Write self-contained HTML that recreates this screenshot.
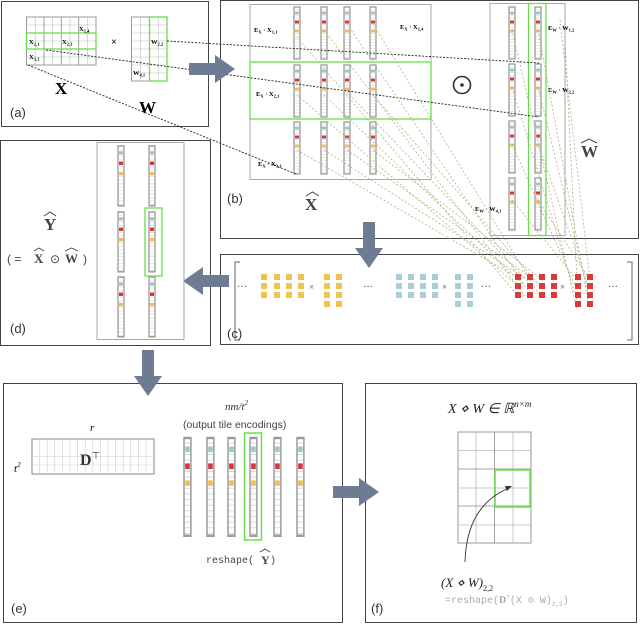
<!DOCTYPE html>
<html><head><meta charset="utf-8"><style>
html,body{margin:0;padding:0;background:#fff}
svg{display:block}
text{font-family:"Liberation Serif",serif}
.s{font-family:"Liberation Sans",sans-serif}
</style></head><body>
<svg width="640" height="625" viewBox="0 0 640 625" xmlns="http://www.w3.org/2000/svg">
<defs>
<pattern id="st" width="6" height="3" patternUnits="userSpaceOnUse"><rect width="6" height="3" fill="#fff"/><line x1="0" y1="2.75" x2="6" y2="2.75" stroke="#d8d8d8" stroke-width="0.5"/></pattern>
<g id="bar">
<rect x="0" y="0" width="6" height="52" fill="url(#st)" stroke="#9a9a9a" stroke-width="1.3"/>
<rect x="1" y="4.5" width="4" height="3" fill="#9fc7cf"/>
<rect x="1" y="13.5" width="4" height="3" fill="#d9363a"/>
<rect x="1" y="22.5" width="4" height="3" fill="#f1c04f"/>
</g>
<g id="arrR"><polygon points="0,-6 26,-6 26,-14 46,0 26,14 26,6 0,6" fill="#6d7b93"/></g>
<g id="sq"><rect width="6" height="6"/></g>
</defs>

<rect x="1.5" y="1.5" width="207" height="125" fill="none" stroke="#444" stroke-width="1"/>
<rect x="220.5" y="0.5" width="418" height="238" fill="none" stroke="#444" stroke-width="1"/>
<rect x="0.5" y="140.5" width="210" height="205" fill="none" stroke="#444" stroke-width="1"/>
<rect x="220.5" y="254.5" width="418" height="90" fill="none" stroke="#444" stroke-width="1"/>
<rect x="3.5" y="383.5" width="339" height="239" fill="none" stroke="#444" stroke-width="1"/>
<rect x="365.5" y="383.5" width="271" height="239" fill="none" stroke="#444" stroke-width="1"/>

<g stroke="#bbb" stroke-width="0.6" fill="none">
<rect x="26.5" y="17" width="69.5" height="48" stroke="#999" stroke-width="1"/>
<path d="M35.2 17V65M43.9 17V65M52.6 17V65M61.3 17V65M70 17V65M78.7 17V65M87.4 17V65M26.5 25H96M26.5 33H96M26.5 41H96M26.5 49H96M26.5 57H96"/>
<path d="M44 17V65M61.3 17V65M78.7 17V65M26.5 33H96M26.5 49H96" stroke="#999" stroke-width="0.9"/>
<rect x="131.5" y="17" width="35.5" height="64" stroke="#999" stroke-width="1"/>
<path d="M140.4 17V81M149.3 17V81M158.2 17V81M131.5 25H167M131.5 33H167M131.5 41H167M131.5 49H167M131.5 57H167M131.5 65H167M131.5 73H167"/>
</g>
<rect x="26.5" y="33" width="69.5" height="16" fill="none" stroke="#66e04a" stroke-width="1.3"/>
<rect x="149.5" y="17" width="17.5" height="64" fill="none" stroke="#66e04a" stroke-width="1.3"/>
<g font-size="6.5" font-weight="bold">
<text x="79" y="31">X<tspan font-size="4.5" dy="1.5">1,4</tspan></text>
<text x="29" y="44">X<tspan font-size="4.5" dy="1.5">2,1</tspan></text>
<text x="62" y="44">X<tspan font-size="4.5" dy="1.5">2,3</tspan></text>
<text x="29" y="59">X<tspan font-size="4.5" dy="1.5">3,1</tspan></text>
<text x="151" y="44">W<tspan font-size="4.5" dy="1.5">2,2</tspan></text>
<text x="133" y="75">W<tspan font-size="4.5" dy="1.5">4,1</tspan></text>
</g>
<text x="111" y="45" font-size="10" class="s">×</text>
<text x="55" y="94" font-size="17" font-weight="bold">X</text>
<text x="139" y="113" font-size="17" font-weight="bold">W</text>
<text x="10" y="117" font-size="13" class="s" fill="#333">(a)</text>

<rect x="250" y="4.5" width="181" height="175" fill="none" stroke="#aaa" stroke-width="1"/>
<rect x="490" y="3.5" width="75" height="232" fill="none" stroke="#aaa" stroke-width="1"/>
<g>
<use href="#bar" x="294" y="7"/><use href="#bar" x="321" y="7"/><use href="#bar" x="344" y="7"/><use href="#bar" x="370" y="7"/>
<use href="#bar" x="294" y="65"/><use href="#bar" x="321" y="65"/><use href="#bar" x="344" y="65"/><use href="#bar" x="370" y="65"/>
<use href="#bar" x="294" y="122"/><use href="#bar" x="321" y="122"/><use href="#bar" x="344" y="122"/><use href="#bar" x="370" y="122"/>
<use href="#bar" x="509" y="7"/><use href="#bar" x="535" y="7"/>
<use href="#bar" x="509" y="64"/><use href="#bar" x="535" y="64"/>
<use href="#bar" x="509" y="121"/><use href="#bar" x="535" y="121"/>
<use href="#bar" x="509" y="178"/><use href="#bar" x="535" y="178"/>
</g>
<rect x="250" y="62" width="181" height="57" fill="none" stroke="#66e04a" stroke-width="1.3"/>
<rect x="528.5" y="3.5" width="17.5" height="232" fill="none" stroke="#66e04a" stroke-width="1.3"/>
<g font-size="6.5" font-weight="bold">
<text x="254" y="32">E<tspan font-size="4.5" dy="1.5">X</tspan><tspan dy="-1.5"> · X</tspan><tspan font-size="4.5" dy="1.5">1,1</tspan></text>
<text x="400" y="29">E<tspan font-size="4.5" dy="1.5">X</tspan><tspan dy="-1.5"> · X</tspan><tspan font-size="4.5" dy="1.5">1,4</tspan></text>
<text x="256" y="96">E<tspan font-size="4.5" dy="1.5">X</tspan><tspan dy="-1.5"> · X</tspan><tspan font-size="4.5" dy="1.5">2,1</tspan></text>
<text x="258" y="166">E<tspan font-size="4.5" dy="1.5">X</tspan><tspan dy="-1.5"> · X</tspan><tspan font-size="4.5" dy="1.5">3,1</tspan></text>
<text x="548" y="30">E<tspan font-size="4.5" dy="1.5">W</tspan><tspan dy="-1.5"> · W</tspan><tspan font-size="4.5" dy="1.5">1,2</tspan></text>
<text x="548" y="92">E<tspan font-size="4.5" dy="1.5">W</tspan><tspan dy="-1.5"> · W</tspan><tspan font-size="4.5" dy="1.5">2,2</tspan></text>
<text x="475" y="211">E<tspan font-size="4.5" dy="1.5">W</tspan><tspan dy="-1.5"> · W</tspan><tspan font-size="4.5" dy="1.5">4,1</tspan></text>
</g>
<circle cx="462" cy="85" r="8.5" fill="none" stroke="#333" stroke-width="1.6"/><circle cx="462" cy="85" r="1.8" fill="#333"/>
<text x="227" y="203" font-size="13" class="s" fill="#333">(b)</text>
<text x="305" y="210" font-size="17" font-weight="bold" fill="#444">X</text>
<path d="M306 196 L312.5 192 L319 196" fill="none" stroke="#444" stroke-width="1"/>
<text x="581" y="157" font-size="17" font-weight="bold" fill="#444">W</text>
<path d="M581 143 L589 139 L597 143" fill="none" stroke="#444" stroke-width="1"/>

<g stroke="#222" stroke-width="0.9" stroke-dasharray="2,1.5" fill="none">
<line x1="167" y1="41" x2="539" y2="63"/>
<line x1="46" y1="50" x2="539" y2="117"/>
<line x1="28" y1="65" x2="296" y2="174"/>
</g>
<g stroke="#b5b182" stroke-width="0.8" stroke-dasharray="2,2" fill="none">
<line x1="297" y1="37" x2="518" y2="296"/>
<line x1="324" y1="30" x2="525" y2="296"/>
<line x1="347" y1="24" x2="532" y2="296"/>
<line x1="373" y1="24" x2="540" y2="296"/>
<line x1="297" y1="95" x2="518" y2="286"/>
<line x1="324" y1="95" x2="525" y2="286"/>
<line x1="347" y1="92" x2="532" y2="286"/>
<line x1="373" y1="95" x2="540" y2="286"/>
<line x1="297" y1="150" x2="518" y2="278"/>
<line x1="324" y1="150" x2="525" y2="278"/>
<line x1="347" y1="150" x2="532" y2="278"/>
<line x1="373" y1="150" x2="540" y2="278"/>
<line x1="512" y1="30" x2="577" y2="310"/>
<line x1="538" y1="30" x2="590" y2="310"/>
<line x1="512" y1="87" x2="577" y2="300"/>
<line x1="538" y1="87" x2="590" y2="300"/>
<line x1="512" y1="144" x2="577" y2="290"/>
<line x1="538" y1="144" x2="590" y2="290"/>
<line x1="512" y1="200" x2="577" y2="280"/>
<line x1="538" y1="200" x2="590" y2="280"/>
<line x1="560" y1="20" x2="590" y2="280"/>
<line x1="565" y1="40" x2="577" y2="280"/>
</g>

<use href="#arrR" transform="translate(189,69)"/>
<use href="#arrR" transform="translate(369,222) rotate(90)"/>
<use href="#arrR" transform="translate(229,281) rotate(180)"/>
<use href="#arrR" transform="translate(148,350) rotate(90)"/>
<use href="#arrR" transform="translate(333,492)"/>

<path d="M240 262H235V340H240M627 262H632V340H627" fill="none" stroke="#666" stroke-width="1"/>
<g font-size="10" class="s" fill="#444">
<text x="237" y="290">···</text><text x="363" y="290">···</text><text x="481" y="290">···</text><text x="608" y="290">···</text>
<text x="309" y="290" font-size="9">×</text><text x="442" y="290" font-size="9">×</text><text x="560" y="290" font-size="9">×</text>
</g>
<g fill="#f2c14e">
<use href="#sq" x="261" y="274"/><use href="#sq" x="274" y="274"/><use href="#sq" x="286" y="274"/><use href="#sq" x="298" y="274"/>
<use href="#sq" x="261" y="283"/><use href="#sq" x="274" y="283"/><use href="#sq" x="286" y="283"/><use href="#sq" x="298" y="283"/>
<use href="#sq" x="261" y="292"/><use href="#sq" x="274" y="292"/><use href="#sq" x="286" y="292"/><use href="#sq" x="298" y="292"/>
<use href="#sq" x="324" y="274"/><use href="#sq" x="336" y="274"/><use href="#sq" x="324" y="283"/><use href="#sq" x="336" y="283"/>
<use href="#sq" x="324" y="292"/><use href="#sq" x="336" y="292"/><use href="#sq" x="324" y="301"/><use href="#sq" x="336" y="301"/>
</g>
<g fill="#a8cdd4">
<use href="#sq" x="396" y="274"/><use href="#sq" x="408" y="274"/><use href="#sq" x="420" y="274"/><use href="#sq" x="432" y="274"/>
<use href="#sq" x="396" y="283"/><use href="#sq" x="408" y="283"/><use href="#sq" x="420" y="283"/><use href="#sq" x="432" y="283"/>
<use href="#sq" x="396" y="292"/><use href="#sq" x="408" y="292"/><use href="#sq" x="420" y="292"/><use href="#sq" x="432" y="292"/>
<use href="#sq" x="455" y="274"/><use href="#sq" x="467" y="274"/><use href="#sq" x="455" y="283"/><use href="#sq" x="467" y="283"/>
<use href="#sq" x="455" y="292"/><use href="#sq" x="467" y="292"/><use href="#sq" x="455" y="301"/><use href="#sq" x="467" y="301"/>
</g>
<g fill="#db3a3a">
<use href="#sq" x="515" y="274"/><use href="#sq" x="527" y="274"/><use href="#sq" x="539" y="274"/><use href="#sq" x="551" y="274"/>
<use href="#sq" x="515" y="283"/><use href="#sq" x="527" y="283"/><use href="#sq" x="539" y="283"/><use href="#sq" x="551" y="283"/>
<use href="#sq" x="515" y="292"/><use href="#sq" x="527" y="292"/><use href="#sq" x="539" y="292"/><use href="#sq" x="551" y="292"/>
<use href="#sq" x="575" y="274"/><use href="#sq" x="587" y="274"/><use href="#sq" x="575" y="283"/><use href="#sq" x="587" y="283"/>
<use href="#sq" x="575" y="292"/><use href="#sq" x="587" y="292"/><use href="#sq" x="575" y="301"/><use href="#sq" x="587" y="301"/>
</g>
<text x="227" y="338" font-size="13" class="s" fill="#333">(c)</text>

<rect x="97" y="142.5" width="87" height="197" fill="none" stroke="#aaa" stroke-width="1"/>
<use href="#bar" transform="translate(118,146) scale(1,1.15)"/><use href="#bar" transform="translate(149,146) scale(1,1.15)"/>
<use href="#bar" transform="translate(118,212) scale(1,1.15)"/><use href="#bar" transform="translate(149,212) scale(1,1.15)"/>
<use href="#bar" transform="translate(118,277) scale(1,1.15)"/><use href="#bar" transform="translate(149,277) scale(1,1.15)"/>
<rect x="145" y="208" width="17" height="68" fill="none" stroke="#66e04a" stroke-width="1.3"/>
<text x="44" y="230" font-size="17" font-weight="bold" fill="#444">Y</text>
<path d="M44 216 L50 212 L56 216" fill="none" stroke="#444" stroke-width="1"/>
<text x="7" y="263" font-size="12" fill="#444" class="s">( = </text>
<text x="34" y="263" font-size="13" font-weight="bold" fill="#444">X</text>
<path d="M34 251 L39 248 L44 251" fill="none" stroke="#444" stroke-width="0.9"/>
<text x="50" y="263" font-size="12" fill="#444" class="s">⊙</text>
<text x="65" y="263" font-size="13" font-weight="bold" fill="#444">W</text>
<path d="M65 251 L71.5 248 L78 251" fill="none" stroke="#444" stroke-width="0.9"/>
<text x="83" y="263" font-size="12" fill="#444" class="s">)</text>
<text x="10" y="333" font-size="13" class="s" fill="#333">(d)</text>

<text x="90" y="431" font-size="11" font-style="italic">r</text>
<text x="14" y="472" font-size="11" font-style="italic">t<tspan font-size="7" dy="-5">2</tspan></text>
<g stroke="#ccc" stroke-width="0.6">
<rect x="32" y="439" width="122" height="35" fill="#fff" stroke="#999" stroke-width="1.2"/>
<path d="M39.6 439V474M47.2 439V474M54.8 439V474M62.4 439V474M70 439V474M77.6 439V474M85.2 439V474M92.8 439V474M100.4 439V474M108 439V474M115.6 439V474M123.2 439V474M130.8 439V474M138.4 439V474M146 439V474M32 456.5H154M32 465H154"/>
</g>
<text x="80" y="465" font-size="16" font-weight="bold" fill="#333">D<tspan font-size="10" font-weight="normal" dy="-6">⊤</tspan></text>
<text x="225" y="410" font-size="11" font-style="italic" fill="#333">nm/t<tspan font-size="7" dy="-5">2</tspan></text>
<text x="183" y="428" font-size="10.5" class="s" fill="#444">(output tile encodings)</text>
<g>
<use href="#bar" transform="translate(184,438) scale(1.15,1.88)"/>
<use href="#bar" transform="translate(207,438) scale(1.15,1.88)"/>
<use href="#bar" transform="translate(228,438) scale(1.15,1.88)"/>
<use href="#bar" transform="translate(250,438) scale(1.15,1.88)"/>
<use href="#bar" transform="translate(274,438) scale(1.15,1.88)"/>
<use href="#bar" transform="translate(297,438) scale(1.15,1.88)"/>
</g>
<rect x="244.5" y="433" width="17" height="107" fill="none" stroke="#66e04a" stroke-width="1.5"/>
<text x="206" y="563" font-size="10" fill="#444" style="font-family:'Liberation Mono',monospace">reshape(</text>
<text x="261" y="564" font-size="12" font-weight="bold" fill="#444">Y</text>
<path d="M260 552 L265 549 L270 552" fill="none" stroke="#444" stroke-width="0.9"/>
<text x="270" y="563" font-size="10" fill="#444" style="font-family:'Liberation Mono',monospace">)</text>
<text x="11" y="613" font-size="13" class="s" fill="#333">(e)</text>

<text x="448" y="413" font-size="14" font-style="italic" fill="#222">X ⋄ W ∈ ℝ<tspan font-size="9" dy="-6">n×m</tspan></text>
<g stroke="#bbb" stroke-width="0.8" fill="none">
<rect x="458" y="432" width="73" height="111" stroke="#aaa" stroke-width="1.2"/>
<path d="M476 432V543M494.5 432V543M513 432V543M458 450.5H531M458 469H531M458 488H531M458 506H531M458 525H531"/>
<path d="M494.5 432V543M458 469H531M458 506H531" stroke="#999"/>
</g>
<rect x="495" y="470" width="35" height="37" fill="none" stroke="#66e04a" stroke-width="1.5"/>
<path d="M465 562 C466 525 480 500 509 488" fill="none" stroke="#333" stroke-width="0.9"/>
<polygon points="512,486 505,486 507,491" fill="#333"/>
<text x="441" y="587" font-size="13" fill="#222"><tspan font-style="italic">(X ⋄ W)</tspan><tspan font-size="8" dy="4">2,2</tspan></text>
<text x="445" y="603" font-size="10" fill="#aaa" style="font-family:'Liberation Mono',monospace">=reshape(<tspan font-family="Liberation Serif" font-weight="bold">D</tspan><tspan font-size="6" dy="-4">⊤</tspan><tspan dy="4">(X ⊙ W)</tspan><tspan font-size="6" dy="3">2,2</tspan><tspan dy="-3">)</tspan></text>
<text x="371" y="613" font-size="13" class="s" fill="#333">(f)</text>
</svg>
</body></html>
